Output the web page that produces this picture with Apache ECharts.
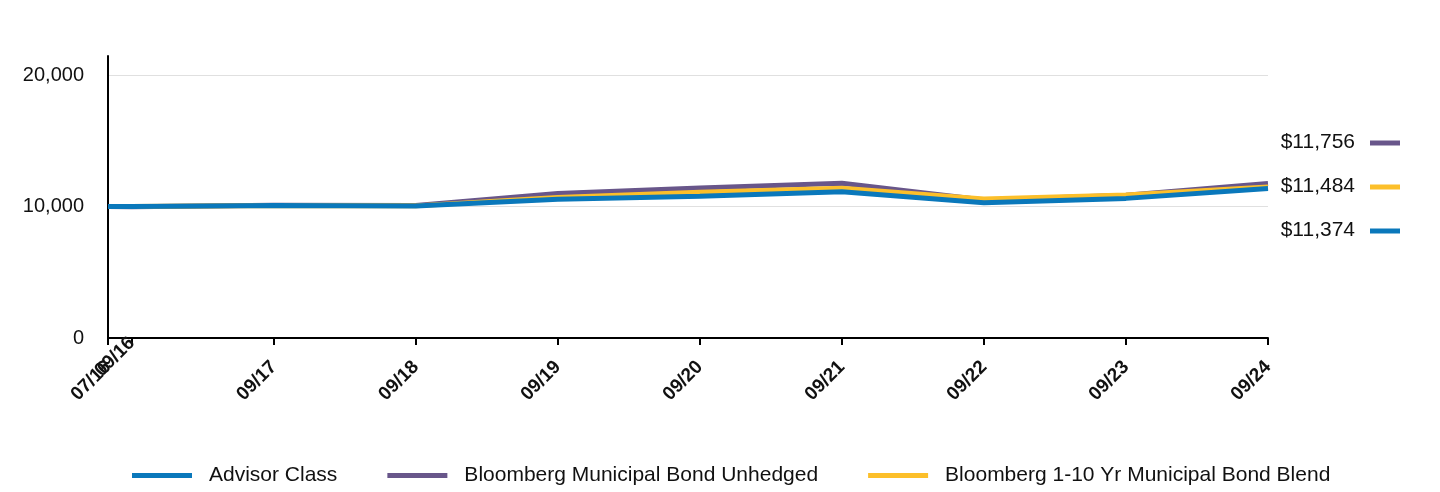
<!DOCTYPE html>
<html><head><meta charset="utf-8">
<script src="https://cdn.jsdelivr.net/npm/echarts@6/dist/echarts.min.js"></script>
<style>html,body{margin:0;padding:0;background:#fff}#c{width:1440px;height:492px}</style>
</head><body><div id="c"></div>
<script>
const dateLabels = ['07/16','09/16','09/17','09/18','09/19','09/20','09/21','09/22','09/23','09/24'];
const advisorClass = [10000, 10010, 10080, 10040, 10560, 10790, 11130, 10290, 10620, 11374];
const muniUnhedged = [10000, 9990, 10100, 10070, 11000, 11410, 11770, 10500, 10850, 11756];
const muniBlend    = [10000, 10000, 10080, 10050, 10680, 11080, 11390, 10580, 10880, 11484];
const yTicks = [0, 10000, 20000];
const seriesNames = ['Advisor Class', 'Bloomberg Municipal Bond Unhedged', 'Bloomberg 1-10 Yr Municipal Bond Blend'];
const endValues = [11756, 11484, 11374];

const colors = {adv:'#0a78bb', unh:'#68568a', blend:'#fcbf2a'};
function monthsFromStart(lbl){
  const [m,y] = lbl.split('/').map(Number);
  const [m0,y0] = dateLabels[0].split('/').map(Number);
  return (y - y0) * 12 + (m - m0);
}
const xs = dateLabels.map(monthsFromStart);
const lblMap = {}; xs.forEach((x,i)=>lblMap[x]=dateLabels[i]);
const mainXs = xs.filter((_,i)=>i!==1);
const pts = arr => arr.map((v,i)=>[xs[i], v]);
const fmt = v => '$' + v.toLocaleString('en-US');

const chart = echarts.init(document.getElementById('c'), null, {renderer:'canvas'});
const FONT = 'Liberation Sans, Arial, sans-serif';
const rightItems = [
  {v:endValues[0], c:colors.unh, y:143},
  {v:endValues[1], c:colors.blend, y:187},
  {v:endValues[2], c:colors.adv, y:231}
];
const graphic = [];
rightItems.forEach(it=>{
  graphic.push({type:'text', right:1440-1355, top:it.y-11, style:{text:fmt(it.v), font:'21px '+FONT, fill:'#111', align:'right'}});
  graphic.push({type:'rect', left:1370, top:it.y-2.5, shape:{width:30,height:5}, style:{fill:it.c}});
});
const xLabelStyle = {rotate:45, fontFamily:FONT, fontSize:19, fontWeight:'bold', color:'#111',
  showMinLabel:true, showMaxLabel:true, hideOverlap:false, formatter:v=>lblMap[v]||''};

chart.setOption({
  animation:false,
  color:[colors.adv, colors.unh, colors.blend],
  grid:{left:108, right:172, top:56, bottom:154, containLabel:false},
  graphic,
  legend:{
    bottom:1, left:127, itemWidth:60, itemHeight:5, itemGap:50, icon:'rect',
    textStyle:{fontFamily:FONT, fontSize:21, color:'#111', padding:[0,0,0,12]},
    data:seriesNames
  },
  xAxis:[{
    type:'value', min:xs[0], max:xs[xs.length-1],
    axisLine:{lineStyle:{color:'#000', width:2}},
    axisTick:{show:true, length:7, lineStyle:{color:'#000', width:2}, customValues:xs},
    axisLabel:Object.assign({customValues:mainXs, margin:26}, xLabelStyle),
    splitLine:{show:false}
  },{
    type:'value', min:xs[0], max:xs[xs.length-1], position:'bottom',
    axisLine:{show:false}, axisTick:{show:false}, splitLine:{show:false},
    axisLabel:Object.assign({customValues:[xs[1]], margin:2}, xLabelStyle)
  }],
  yAxis:{
    type:'value', min:0, max:21450, interval:10000,
    axisLine:{show:true, lineStyle:{color:'#000', width:2}},
    axisTick:{show:false},
    axisLabel:{margin:24, fontFamily:FONT, fontSize:20, color:'#111', customValues:yTicks,
      formatter:v=>v.toLocaleString('en-US')},
    splitLine:{show:true, lineStyle:{color:['#e0e0e0','#e0e0e0','#e0e0e0','rgba(0,0,0,0)'], width:1}}
  },
  series:[
    {name:seriesNames[0], type:'line', data:pts(advisorClass), showSymbol:false, lineStyle:{width:5, color:colors.adv}, itemStyle:{color:colors.adv}, z:5},
    {name:seriesNames[1], type:'line', data:pts(muniUnhedged), showSymbol:false, lineStyle:{width:5, color:colors.unh}, itemStyle:{color:colors.unh}, z:3},
    {name:seriesNames[2], type:'line', data:pts(muniBlend), showSymbol:false, lineStyle:{width:5, color:colors.blend}, itemStyle:{color:colors.blend}, z:4}
  ]
});
</script></body></html>
